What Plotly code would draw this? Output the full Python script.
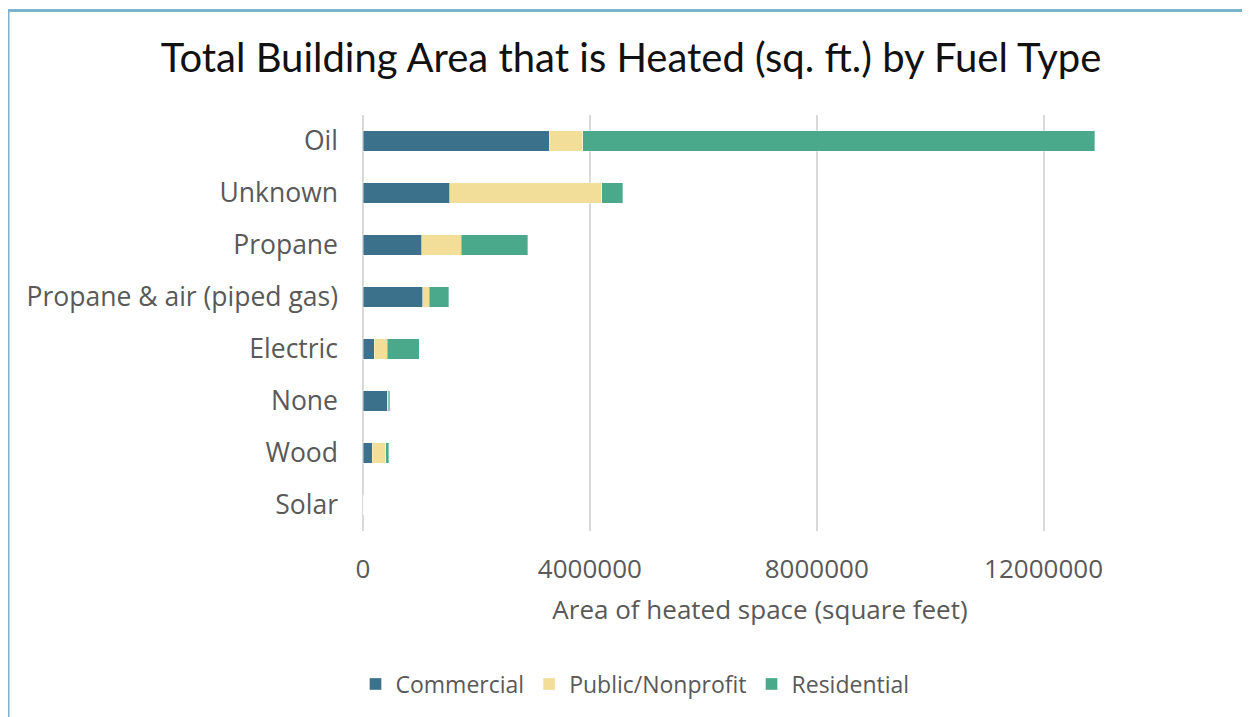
import plotly.graph_objects as go

# ── data ──────────────────────────────────────────────────────────────────────

FUEL_TYPES = ["Oil", "Unknown", "Propane", "Propane & air (piped gas)",
              "Electric", "None", "Wood", "Solar"]
COMMERCIAL = [3283000, 1533000, 1034000, 1057000, 200000, 430000, 160000, 0]
PUBLIC_NONPROFIT = [588000, 2677000, 699000, 112000, 230000, 18000, 245000, 0]
RESIDENTIAL = [9029000, 366000, 1174000, 341000, 560000, 22000, 45000, 3000]
X_TICKS = [0, 4000000, 8000000, 12000000]

# ── styling ───────────────────────────────────────────────────────────────────

COLORS = {"Commercial": "#3b718b", "Public/Nonprofit": "#f2dd99", "Residential": "#4aa88b"}
TEXT_GREY = "#595959"
GRID = "#d9d9d9"
BORDER = "#7ab4ca"
FONT = "Open Sans"

# the page body has an 8px margin, so the figure starts at (8, 8) in the window
OFF = 8
W, H = 1250 - OFF, 717 - OFF
# plot area in window pixels: x 363..1157, y 115..531
L, R, T, B = 363 - OFF, 1157 - OFF, 115 - OFF, 531 - OFF


def _px(xpix):
    """window x pixel -> paper x"""
    return (xpix - OFF - L) / (R - L)


def _py(ypix):
    """window y pixel -> paper y"""
    return (B - (ypix - OFF)) / (B - T)


fig = go.Figure()
for name, vals in [("Commercial", COMMERCIAL),
                   ("Public/Nonprofit", PUBLIC_NONPROFIT),
                   ("Residential", RESIDENTIAL)]:
    fig.add_trace(go.Bar(
        x=vals,
        y=FUEL_TYPES,
        name=name,
        orientation="h",
        marker=dict(color=COLORS[name], line=dict(color="rgba(255,255,255,0.45)", width=0.8)),
    ))

fig.update_layout(
    barmode="stack",
    bargap=0.615,
    width=W,
    height=H,
    paper_bgcolor="white",
    plot_bgcolor="white",
    margin=dict(l=L, r=W - R, t=T, b=H - B, autoexpand=False),
    font=dict(family=FONT, color=TEXT_GREY),
    title=dict(
        text="Total Building Area that is Heated (sq. ft.) by Fuel Type",
        font=dict(family="Lato", size=40, color="#111111"),
        x=_px(631), xref="paper", xanchor="center",
        y=1 - (58 - OFF) / H, yanchor="middle",
    ),
    legend=dict(
        orientation="h",
        x=_px(635), xanchor="center",
        y=_py(684), yanchor="middle",
        font=dict(size=23, color=TEXT_GREY),
        traceorder="normal",
        itemwidth=30,
    ),
    shapes=[
        dict(type="line", xref="paper", yref="paper",
             x0=_px(8), x1=_px(1260), y0=_py(10.5), y1=_py(10.5),
             line=dict(color=BORDER, width=3)),
        dict(type="line", xref="paper", yref="paper",
             x0=_px(8.5), x1=_px(8.5), y0=_py(9), y1=_py(730),
             line=dict(color=BORDER, width=2)),
    ],
)

fig.update_xaxes(
    range=[0, 14000000],
    tickvals=X_TICKS,
    tickformat="d",
    showgrid=True,
    gridcolor=GRID,
    gridwidth=2,
    zeroline=True,
    zerolinecolor=GRID,
    zerolinewidth=2,
    showline=False,
    ticks="",
    ticklabelstandoff=20,
    tickfont=dict(size=26, color=TEXT_GREY),
    title=dict(text="Area of heated space (square feet)",
               font=dict(size=26, color=TEXT_GREY), standoff=15),
)
fig.update_yaxes(
    categoryorder="array",
    categoryarray=FUEL_TYPES[::-1],
    showgrid=False,
    showline=False,
    ticks="",
    ticklabelstandoff=24,
    tickfont=dict(size=26.5, color=TEXT_GREY),
)

fig.write_html("out.html")
